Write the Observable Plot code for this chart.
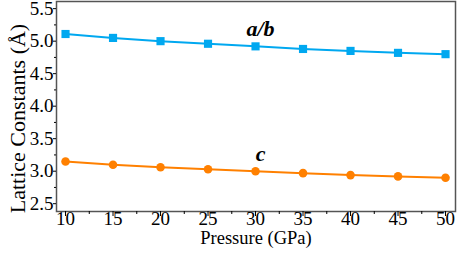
<!DOCTYPE html>
<html>
<head>
<meta charset="utf-8">
<script src="https://cdn.jsdelivr.net/npm/d3@7"></script>
<script src="https://cdn.jsdelivr.net/npm/@observablehq/plot@0.6"></script>
<style>
  html, body { margin: 0; padding: 0; background: #fff; }
  #chart svg { display: block; font-family: "Liberation Serif", "Times New Roman", serif !important; }
  #chart svg text { font-family: "Liberation Serif", "Times New Roman", serif !important; font-variant: normal !important; font-variant-numeric: normal !important; }
</style>
</head>
<body>
<div id="chart"></div>
<script>
const pressure = [10, 15, 20, 25, 30, 35, 40, 45, 50];
const abValues = [5.11, 5.05, 5.00, 4.96, 4.92, 4.88, 4.85, 4.82, 4.80];
const cValues  = [3.15, 3.10, 3.06, 3.03, 3.00, 2.97, 2.94, 2.92, 2.90];
const seriesLabels = ["a/b", "c"];
const labelAt = 30;
const xTicks = [10, 15, 20, 25, 30, 35, 40, 45, 50];
const xMinor = [12.5, 17.5, 22.5, 27.5, 32.5, 37.5, 42.5, 47.5];
const yTicks = [2.5, 3.0, 3.5, 4.0, 4.5, 5.0, 5.5];
const yMinor = [2.75, 3.25, 3.75, 4.25, 4.75, 5.25];

const blue = "#00a8f0";
const orange = "#ff8000";
const serif = "'Liberation Serif', 'Times New Roman', serif";
const none = () => "";

const ab = pressure.map((p, i) => ({p, v: abValues[i]}));
const cc = pressure.map((p, i) => ({p, v: cValues[i]}));
const labels = [
  {p: labelAt, v: abValues[pressure.indexOf(labelAt)], t: seriesLabels[0]},
  {p: labelAt, v: cValues[pressure.indexOf(labelAt)], t: seriesLabels[1]}
];

const chart = Plot.plot({
  width: 457,
  height: 254,
  marginLeft: 56,
  marginTop: 1,
  marginRight: 2,
  marginBottom: 43,
  style: {fontFamily: serif, fontSize: "17px", color: "#000", background: "#fff"},
  x: {domain: [9.05, 51.05]},
  y: {domain: [2.38, 5.61]},
  marks: [
    Plot.frame({stroke: "#555", strokeWidth: 1.5}),
    Plot.axisX({ticks: xTicks, tickSize: 5, tickFormat: none, label: null}),
    Plot.axisX({ticks: xMinor, tickSize: 3, tickFormat: none, label: null}),
    Plot.axisY({ticks: yTicks, tickSize: 3, tickFormat: none, label: null}),
    Plot.axisY({ticks: yMinor, tickSize: 2, tickFormat: none, label: null}),
    Plot.text(xTicks, {x: d => d, frameAnchor: "bottom", dy: 13, text: d => String(d), fontSize: 19, fontFamily: serif, fontVariant: "normal", fill: "#000"}),
    Plot.text(yTicks, {y: d => d, frameAnchor: "left", dx: -3, textAnchor: "end", text: d => d.toFixed(1), fontSize: 19, fontFamily: serif, fontVariant: "normal", fill: "#000"}),
    Plot.line(ab, {x: "p", y: "v", stroke: blue, strokeWidth: 2}),
    Plot.dot(ab, {x: "p", y: "v", symbol: "square", fill: blue, r: 4.6}),
    Plot.line(cc, {x: "p", y: "v", stroke: orange, strokeWidth: 2}),
    Plot.dot(cc, {x: "p", y: "v", fill: orange, r: 4.3}),
    Plot.text(labels, {x: "p", y: "v", text: "t", dx: 5, dy: -17, fontSize: 22, fontWeight: "bold", fontStyle: "italic", fontFamily: serif, fill: "#000"}),
    Plot.text(["Pressure (GPa)"], {frameAnchor: "bottom", dy: 32, fontSize: 18.5, fontFamily: serif, fill: "#000"}),
    Plot.text(["Lattice Constants (Å)"], {frameAnchor: "left", dx: -39, dy: 12, rotate: -90, textAnchor: "middle", fontSize: 22, fontFamily: serif, fill: "#000"})
  ]
});
document.getElementById("chart").appendChild(chart);
</script>
</body>
</html>
